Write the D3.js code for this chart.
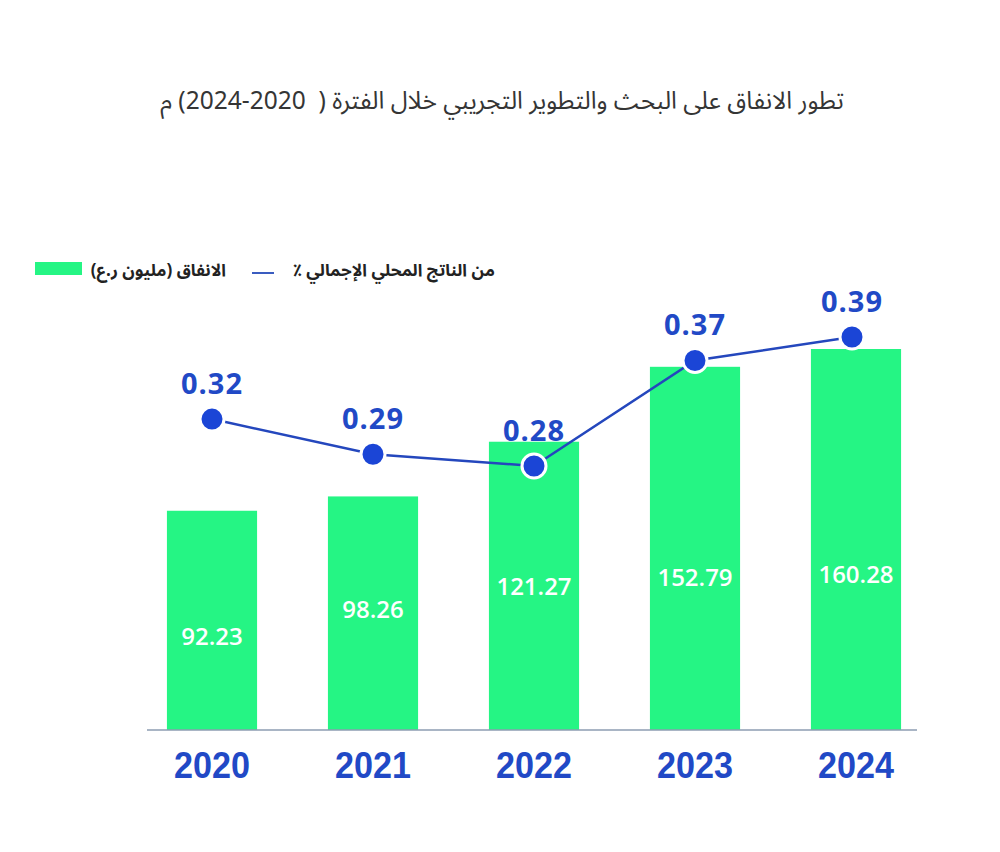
<!DOCTYPE html>
<html>
<head>
<meta charset="utf-8">
<script src="https://cdn.jsdelivr.net/npm/d3@7"></script>
<style>
  html, body { margin: 0; padding: 0; background: #fff; }
  svg { display: block; }
</style>
</head>
<body>
<svg id="chart" width="1000" height="852"></svg>
<script>
  const years = ['2020', '2021', '2022', '2023', '2024'];
  const spending = [92.23, 98.26, 121.27, 152.79, 160.28];
  const gdpShare = [0.32, 0.29, 0.28, 0.37, 0.39];
  const spendingLabel = 'الانفاق (مليون ر.ع)';
  const shareLabel = 'من الناتج المحلي الإجمالي ٪';
  const title = 'تطور الانفاق على البحث والتطوير التجريبي خلال الفترة (  2020-2024) م';

  (() => {
    let svg;
    let x;
    let y;
    let y2;
    let cx;
    let line;
    let labelAt;
    const green = '#25f584';
    const blue = '#1b45d6';
    const textBlue = '#2149c6';
    const arabic = '"Noto Sans Arabic", "DejaVu Sans", sans-serif';

    // where the white value sits inside each bar, as a share of its height
    labelAt = [0.43, 0.52, 0.5, 0.42, 0.41];

    svg = d3.select('#chart');

    x = d3.scaleBand()
      .domain(years)
      .range([131.5, 936.5])
      .paddingInner(0.44)
      .paddingOuter(0.22);

    y = d3.scaleLinear()
      .domain([0, 160.28])
      .range([730, 349]);

    y2 = d3.scaleLinear()
      .domain([0.28, 0.39])
      .range([466, 337]);

    cx = i => x(years[i]) + x.bandwidth() / 2 - (i === 4 ? 4 : 0);

    svg.append('text')
      .attr('x', 502)
      .attr('y', 109)
      .attr('text-anchor', 'middle')
      .attr('direction', 'rtl')
      .style('white-space', 'pre')
      .style('font-family', arabic)
      .style('font-size', '24.5px')
      .style('fill', '#353535')
      .text(title);

    // legend
    svg.append('rect')
      .attr('x', 35)
      .attr('y', 262)
      .attr('width', 47)
      .attr('height', 13)
      .attr('fill', green);
    svg.append('text')
      .attr('x', 226)
      .attr('y', 276)
      .attr('direction', 'rtl')
      .attr('text-anchor', 'start')
      .style('font-family', arabic)
      .style('font-size', '17px')
      .style('font-weight', 'bold')
      .style('fill', '#222')
      .text(spendingLabel);
    svg.append('line')
      .attr('x1', 252)
      .attr('x2', 274)
      .attr('y1', 273)
      .attr('y2', 273)
      .attr('stroke', '#3a5cc0')
      .attr('stroke-width', 2);
    svg.append('text')
      .attr('x', 495)
      .attr('y', 276)
      .attr('direction', 'rtl')
      .attr('text-anchor', 'start')
      .style('font-family', arabic)
      .style('font-size', '17px')
      .style('font-weight', 'bold')
      .style('fill', '#222')
      .text(shareLabel);

    // bars
    svg.append('g')
      .selectAll('rect')
      .data(spending)
      .join('rect')
      .attr('x', (d, i) => x(years[i]))
      .attr('y', d => y(d))
      .attr('width', x.bandwidth())
      .attr('height', d => y(0) - y(d))
      .attr('fill', green);

    svg.append('g')
      .selectAll('text')
      .data(spending)
      .join('text')
      .attr('x', (d, i) => x(years[i]) + x.bandwidth() / 2)
      .attr('y', (d, i) => y(d * labelAt[i]) + 9)
      .attr('text-anchor', 'middle')
      .style('font-family', '"Open Sans", sans-serif')
      .style('font-size', '24px')
      .style('font-weight', 600)
      .style('fill', '#fff')
      .text(d => d.toFixed(2));

    // baseline and years
    svg.append('g')
      .attr('transform', 'translate(0,730)')
      .call(d3.axisBottom(x).tickSize(0).tickPadding(0))
      .call(g => g.select('.domain')
        .attr('d', 'M147,0H917')
        .attr('stroke', '#8d9db2')
        .attr('stroke-width', 1.5))
      .call(g => g.selectAll('.tick text')
        .attr('y', 48)
        .attr('dy', null)
        .style('font-family', '"Liberation Sans", Arial, sans-serif')
        .style('font-size', '37px')
        .style('font-weight', 'bold')
        .style('fill', textBlue)
        .attr('textLength', 76)
        .attr('lengthAdjust', 'spacingAndGlyphs'));

    // share of GDP line
    line = d3.line()
      .x((d, i) => cx(i))
      .y(d => y2(d));

    svg.append('path')
      .datum(gdpShare)
      .attr('d', line)
      .attr('fill', 'none')
      .attr('stroke', '#2447bd')
      .attr('stroke-width', 2.5);

    svg.append('g')
      .selectAll('circle')
      .data(gdpShare)
      .join('circle')
      .attr('cx', (d, i) => cx(i))
      .attr('cy', d => y2(d))
      .attr('r', 12)
      .attr('fill', blue)
      .attr('stroke', '#fff')
      .attr('stroke-width', 3);

    svg.append('g')
      .selectAll('text')
      .data(gdpShare)
      .join('text')
      .attr('x', (d, i) => cx(i))
      .attr('y', d => y2(d) - 25)
      .attr('text-anchor', 'middle')
      .style('font-family', '"Open Sans", sans-serif')
      .style('font-size', '29px')
      .style('font-weight', 'bold')
      .style('letter-spacing', '1px')
      .style('fill', textBlue)
      .text(d => d.toFixed(2));
  })();
</script>
</body>
</html>
